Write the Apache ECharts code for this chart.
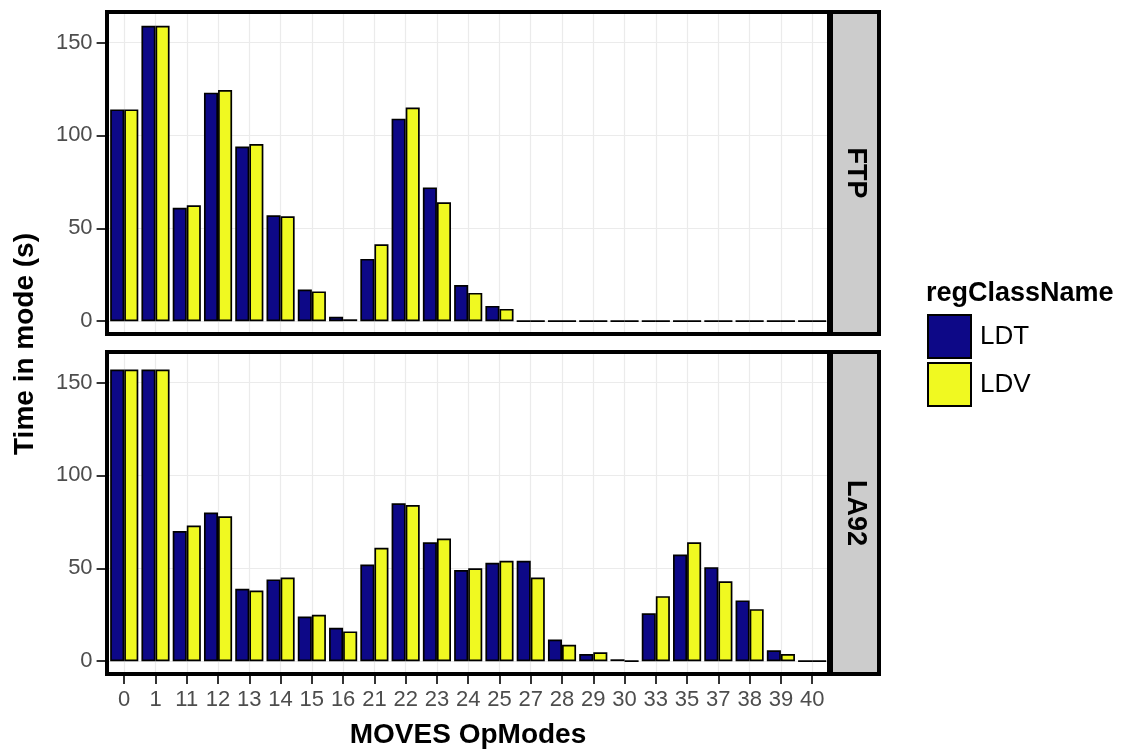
<!DOCTYPE html>
<html>
<head>
<meta charset="utf-8">
<script src="https://cdn.jsdelivr.net/npm/echarts@6/dist/echarts.min.js"></script>
<style>
html,body{margin:0;padding:0;background:#fff;}
#chart{width:1122px;height:751px;}
</style>
</head>
<body>
<div id="chart"></div>
<script>
const categories = ['0','1','11','12','13','14','15','16','21','22','23','24','25','27','28','29','30','33','35','37','38','39','40'];
const seriesNames = ['LDT','LDV'];
const facetNames = ['FTP','LA92'];
const ftpLDT = [114,159,61,123,94,57,17,2.3,33.5,109,72,19.4,8.2,0,0,0,0,0,0,0,0,0,0];
const ftpLDV = [114,159,62.4,124.4,95.3,56.5,16,1,41.4,115,64,15.2,6.6,0,0,0,0,0,0,0,0,0,0];
const la92LDT = [157,157,70,80,39,44,24,18,52,85,64,49,53,54,11.6,3.8,1,25.8,57.4,50.6,32.7,5.9,0];
const la92LDV = [157,157,73,78,38,45,25,16,61,84,66,50,54,45,8.8,4.8,0,35,64,43,28,3.8,0];
const yTicks = [0,50,100,150];
const colors = ['#0D0887','#F0F921'];

const FONT = 'Liberation Sans, Arial, sans-serif';
const chart = echarts.init(document.getElementById('chart'));

const panels = [
  {top:10, name: facetNames[0], data:[ftpLDT, ftpLDV], showX:false},
  {top:350, name: facetNames[1], data:[la92LDT, la92LDV], showX:true}
];
const PH = 326, GL = 108.6, GW = 719.2;
const catPositions = categories.map((c, i) => i);

const grids = [], xAxes = [], yAxes = [], series = [], graphics = [];
panels.forEach((p, i) => {
  grids.push({left:GL, top:p.top, width:GW, height:PH, containLabel:false});
  xAxes.push({
    type:'category', gridIndex:i, data:categories, boundaryGap:true, position:'bottom',
    axisLine:{show:false, onZero:false},
    axisTick:{show:p.showX, alignWithLabel:true, length:8, lineStyle:{color:'#333', width:2}},
    axisLabel:{show:p.showX, fontSize:22, color:'#4d4d4d', margin:13, fontFamily:FONT, interval:0},
    splitLine:{show:false}
  });
  xAxes.push({
    type:'value', gridIndex:i, min:-0.5, max:categories.length - 0.5, position:'top',
    axisLine:{show:false, onZero:false},
    axisTick:{show:false, customValues:catPositions},
    axisLabel:{show:false},
    splitLine:{show:true, lineStyle:{color:'#ebebeb', width:1.2}}
  });
  yAxes.push({
    type:'value', gridIndex:i, min:-8, max:167.5, position:'left',
    axisLine:{show:false, onZero:false},
    axisTick:{show:true, length:12, customValues:yTicks, lineStyle:{color:'#333', width:2}},
    axisLabel:{show:true, customValues:yTicks, fontSize:22, color:'#4d4d4d', margin:16, fontFamily:FONT},
    splitLine:{show:true, lineStyle:{color:'#ebebeb', width:1.2}}
  });
  seriesNames.forEach((s, k) => {
    series.push({
      type:'bar', name:s, xAxisIndex:i*2, yAxisIndex:i, data:p.data[k],
      barWidth:'45%', barGap:'0%',
      itemStyle:{color:colors[k], borderColor:'#000', borderWidth:1.7},
      emphasis:{disabled:true}
    });
  });
  graphics.push({type:'rect', z:100, shape:{x:107, y:p.top+2, width:722, height:PH-4},
    style:{fill:null, stroke:'#000', lineWidth:4}});
  graphics.push({type:'rect', z:100, shape:{x:831, y:p.top+2, width:48, height:PH-4},
    style:{fill:'#cccccc', stroke:'#000', lineWidth:4}});
  graphics.push({type:'text', z:101, x:855, y:p.top+PH/2, rotation:-Math.PI/2,
    style:{text:p.name, font:'bold 27px ' + FONT, fill:'#000', align:'center', verticalAlign:'middle'}});
});

graphics.push({type:'text', z:101, x:25, y:344, rotation:Math.PI/2,
  style:{text:'Time in mode (s)', font:'bold 28px ' + FONT, fill:'#000', align:'center', verticalAlign:'middle'}});
graphics.push({type:'text', z:101, x:468, y:735,
  style:{text:'MOVES OpModes', font:'bold 28px ' + FONT, fill:'#000', align:'center', verticalAlign:'middle'}});
graphics.push({type:'text', z:101, x:926, y:294,
  style:{text:'regClassName', font:'bold 27px ' + FONT, fill:'#000', align:'left', verticalAlign:'middle'}});

chart.setOption({
  animation:false,
  backgroundColor:'#fff',
  grid:grids, xAxis:xAxes, yAxis:yAxes, series:series,
  legend:{
    data:seriesNames, orient:'vertical', left:927, top:314, padding:0,
    itemWidth:43, itemHeight:43, itemGap:3, icon:'rect',
    textStyle:{fontSize:26, color:'#000', fontFamily:FONT, padding:[0,0,0,4]},
    selectedMode:false
  },
  graphic:graphics
});
</script>
</body>
</html>
